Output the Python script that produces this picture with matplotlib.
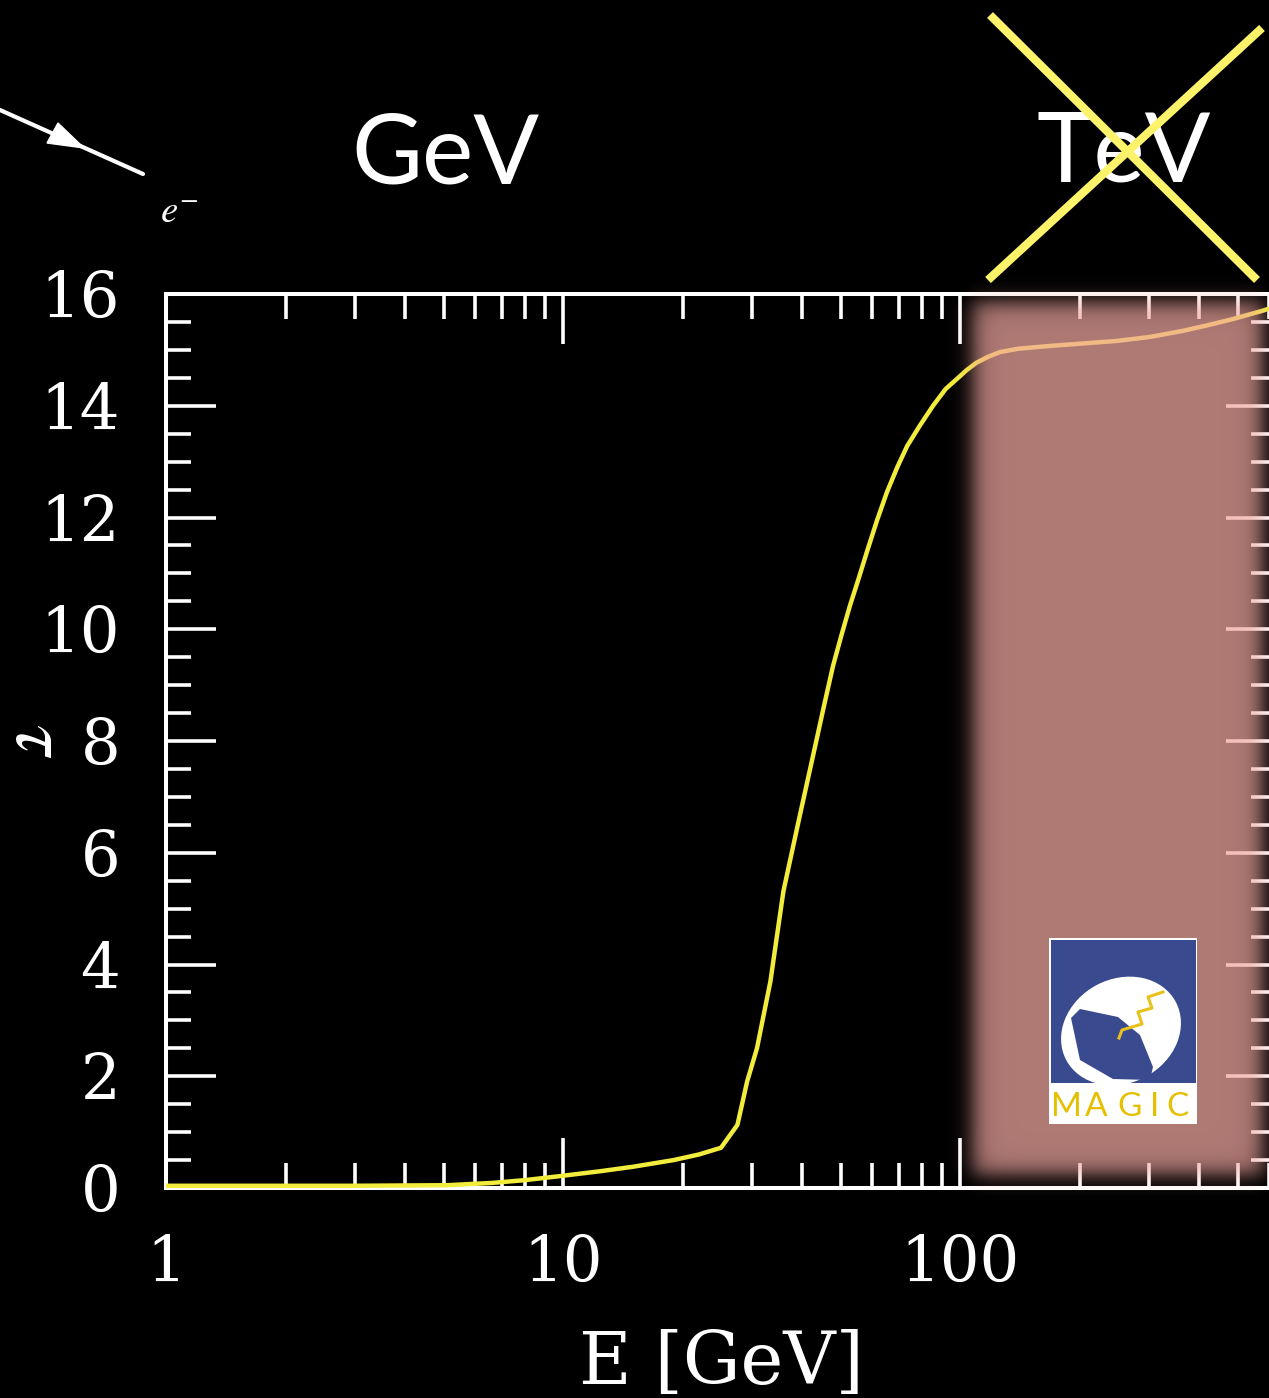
import numpy as np
import matplotlib
matplotlib.use('Agg')
import matplotlib.pyplot as plt
from matplotlib.ticker import FixedLocator, LogLocator, MultipleLocator, NullFormatter
from matplotlib.patches import Rectangle, Ellipse, Polygon

plt.rcParams['font.family'] = ['DejaVu Serif']
plt.rcParams['mathtext.fontset'] = 'stix'

# ── data ─────────────────────────────────────────────────────────────────────
energy_gev = [1, 3, 5.1, 6.6, 8, 9.75, 12.4, 15, 19, 22, 25, 27.5, 29.1, 30.8,
              33.3, 35.9, 39.5, 43.2, 45.5, 47.9, 50.3, 52.8, 55.5, 58.3, 61.8,
              65.5, 69.5, 73.6, 79.3, 85.5, 92, 100, 104, 110, 118, 126, 140,
              168, 200, 248, 300, 364, 420, 486, 578, 625]
tau = [0.04, 0.04, 0.05, 0.09, 0.14, 0.21, 0.30, 0.38, 0.50, 0.60, 0.72, 1.13,
       1.91, 2.50, 3.70, 5.31, 6.67, 7.92, 8.65, 9.35, 9.90, 10.42, 10.90,
       11.39, 11.95, 12.46, 12.90, 13.28, 13.65, 14.0, 14.30, 14.53, 14.64,
       14.77, 14.88, 14.96, 15.02, 15.07, 15.11, 15.16, 15.23, 15.34, 15.44,
       15.55, 15.70, 15.78]

x_major = [1, 10, 100]
x_major_labels = ['1', '10', '100']
y_major = [0, 2, 4, 6, 8, 10, 12, 14, 16]

# shaded "MAGIC" band (E range, tau range)
band_E = (108, 578)
band_tau = (0.25, 15.85)

W, H = 1269, 1398
fig = plt.figure(figsize=(W / 100, H / 100), dpi=100, facecolor='black')
ax = fig.add_axes([166 / W, (H - 1188) / H, (1276 - 166) / W, (1188 - 294) / H])
ax.set_facecolor('black')

ax.plot(energy_gev, tau, color='#F2EC3C', lw=3.2, zorder=3)

ax.set_xscale('log')
ax.set_xlim(1, 625)
ax.set_ylim(0, 16)
ax.xaxis.set_major_locator(FixedLocator(x_major))
ax.xaxis.set_minor_locator(LogLocator(base=10, subs=np.arange(2, 10)))
ax.xaxis.set_minor_formatter(NullFormatter())
ax.set_xticklabels(x_major_labels)
ax.yaxis.set_major_locator(FixedLocator(y_major))
ax.yaxis.set_minor_locator(MultipleLocator(0.5))

ax.tick_params(which='both', direction='in', top=True, right=True,
               colors='white', width=2.6, labelsize=45)
ax.tick_params(which='major', length=36)
ax.tick_params(which='minor', length=18)
ax.tick_params(axis='y', pad=33)
ax.tick_params(axis='x', pad=33)
for sp in ax.spines.values():
    sp.set_color('white')
    sp.set_linewidth(2.9)

ax.set_xlabel('E [GeV]', fontsize=52, color='white', va='baseline')
ax.xaxis.set_label_coords(0.5, (1188 - 1384) / 894)
ax.set_ylabel(r'$\tau$', fontsize=56, color='white', rotation=270,
              ha='center', va='center')
ax.yaxis.set_label_coords((38 - 166) / 1110, 0.5)

# ── overlay in figure pixels ─────────────────────────────────────────────────
ov = fig.add_axes([0, 0, 1, 1], zorder=5)
ov.patch.set_alpha(0)
ov.axis('off')

# blurred translucent band
p0 = ax.transData.transform((band_E[0], band_tau[1]))
p1 = ax.transData.transform((band_E[1], band_tau[0]))
bx0, bx1 = p0[0], p1[0]
by0, by1 = H - p0[1], H - p1[1]
xs = np.arange(W) + 0.5
ys = np.arange(H) + 0.5
s = 12.0
ex = 0.25 * (1 + np.tanh((xs - bx0) / s)) * (1 - np.tanh((xs - bx1) / s))
ey = 0.25 * (1 + np.tanh((ys - by0) / s)) * (1 - np.tanh((ys - by1) / s))
rgba = np.zeros((H, W, 4))
rgba[..., 0] = 241 / 255
rgba[..., 1] = 167 / 255
rgba[..., 2] = 160 / 255
rgba[..., 3] = 0.73 * np.outer(ey, ex)
ov.imshow(rgba, extent=(0, W, H, 0), aspect='auto', interpolation='bilinear', zorder=1)

# headings
ov.text(445, 184, 'GeV', family='Lato', fontsize=70, color='white',
        ha='center', va='baseline', zorder=2)
ov.text(1124, 182, 'TeV', family='Lato', fontsize=70, color='white',
        ha='center', va='baseline', zorder=2)
ov.plot([990, 1257], [15, 280], color='#FDF36A', lw=6, solid_capstyle='butt', zorder=3)
ov.plot([988, 1262], [280, 28], color='#FDF36A', lw=6, solid_capstyle='butt', zorder=3)

# incoming electron
ov.plot([0, 143], [110, 174], color='white', lw=3, solid_capstyle='round', zorder=3)
ov.add_patch(Polygon([(47, 143), (58, 123), (84, 148)], closed=True,
                     fc='white', ec='white', lw=1, zorder=3))
ov.text(160, 223, r'$e^{-}$', fontsize=28, color='white', ha='left', va='baseline')

# MAGIC logo
ov.add_patch(Rectangle((1049, 938), 148, 186, fc='white', ec='none', zorder=4))
ov.add_patch(Rectangle((1051, 940), 145, 143, fc='#394A8F', ec='none', zorder=4))
ov.add_patch(Ellipse((1121, 1031), 124, 104, angle=-28, fc='white', ec='none', zorder=5))
ov.add_patch(Polygon([(1071, 1018), (1080, 1009), (1118, 1017), (1140, 1035),
                      (1153, 1067), (1150, 1080), (1113, 1079), (1080, 1060)],
                     closed=True, fc='#394A8F', ec='none', zorder=6))
ov.add_patch(Rectangle((1051, 1083), 145, 39, fc='white', ec='none', zorder=5))
ov.plot([1163, 1148, 1152, 1138, 1142, 1122, 1119],
        [992, 997, 1008, 1012, 1024, 1030, 1038],
        color='#E8C21A', lw=2.2, zorder=7)
for ch, cx in zip('MAGIC', [1066, 1096, 1130, 1155, 1178]):
    ov.text(cx, 1116, ch, family='Lato', fontsize=24,
            color='#E6C000', ha='center', va='baseline', zorder=7)

ov.set_xlim(0, W)
ov.set_ylim(H, 0)

fig.savefig('out.png', dpi=100, facecolor='black')
